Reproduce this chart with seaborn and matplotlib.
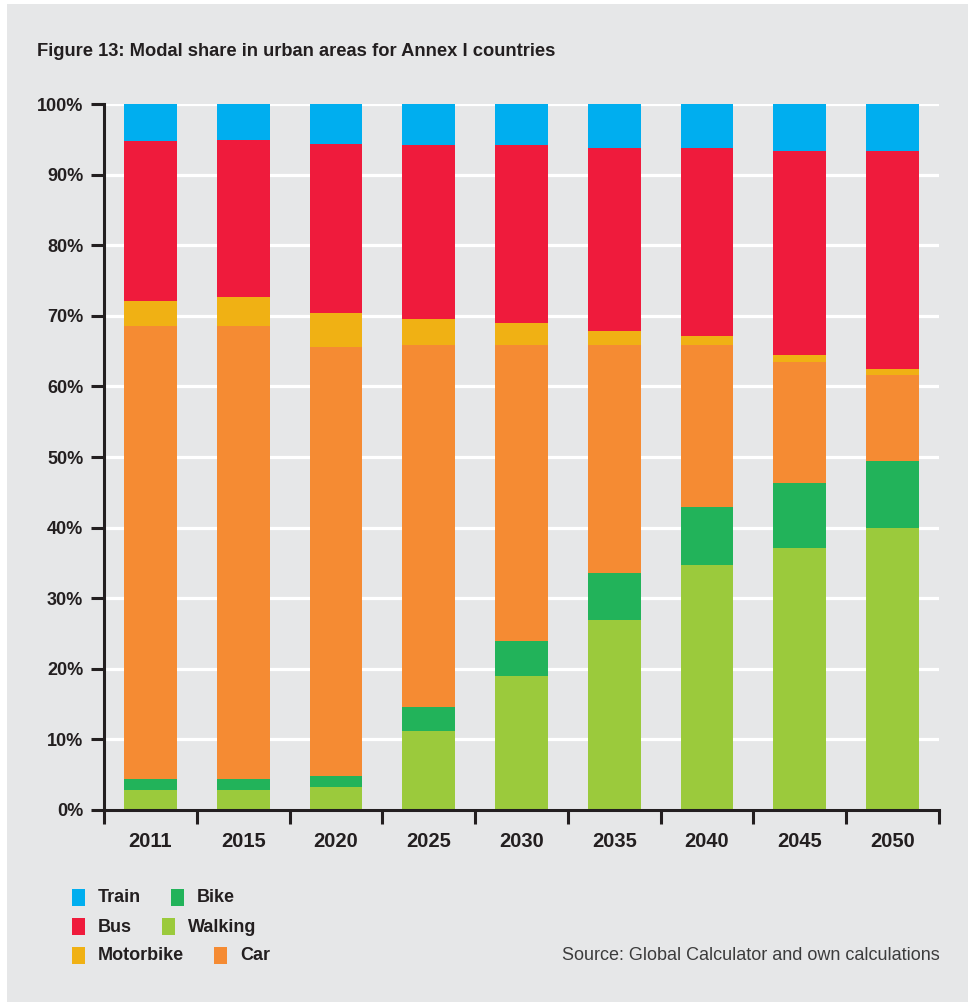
'''
Modal share in urban areas for Annex I countries (stacked bars).
'''
import matplotlib
matplotlib.use('Agg')
import matplotlib.pyplot as plt
from matplotlib.patches import Rectangle
import numpy as np
import pandas as pd
import seaborn as sns

years = ['2011', '2015', '2020', '2025', '2030', '2035', '2040', '2045', '2050']

# shares in %, bottom to top of each bar
walking = [2.8, 2.8, 3.3, 11.2, 19.0, 26.9, 34.7, 37.1, 39.9]
bike = [1.6, 1.6, 1.5, 3.4, 4.9, 6.7, 8.2, 9.2, 9.6]
car = [64.2, 64.2, 60.8, 51.2, 41.9, 32.2, 23.0, 17.1, 12.1]
motorbike = [3.5, 4.0, 4.8, 3.8, 3.2, 2.0, 1.2, 1.0, 0.9]
bus = [22.7, 22.3, 24.0, 24.6, 25.2, 26.0, 26.7, 29.0, 30.8]
train = [5.2, 5.1, 5.6, 5.8, 5.8, 6.2, 6.2, 6.6, 6.7]

modes = ['Walking', 'Bike', 'Car', 'Motorbike', 'Bus', 'Train']
colors = {'Train': '#00aeef', 'Bus': '#ef1b3c', 'Motorbike': '#f0b114',
          'Car': '#f58b33', 'Bike': '#22b35a', 'Walking': '#9bca3c'}

# legend rows, as laid out under the chart
legend_rows = [['Train', 'Bike'], ['Bus', 'Walking'], ['Motorbike', 'Car']]

title = 'Figure 13: Modal share in urban areas for Annex I countries'
source = 'Source: Global Calculator and own calculations'

BG = '#e6e7e8'
INK = '#231f20'

df = pd.DataFrame({'year': years, 'Walking': walking, 'Bike': bike, 'Car': car,
                   'Motorbike': motorbike, 'Bus': bus, 'Train': train})

sns.set_style('white')
plt.rcParams['font.family'] = ['Liberation Sans', 'DejaVu Sans']

W, H = 968, 1002
fig = plt.figure(figsize=(W / 100, H / 100), dpi=100, facecolor='white')
fig.patches.append(Rectangle((7 / W, 0), 1 - 7 / W, 1 - 4 / H, transform=fig.transFigure,
                             facecolor=BG, edgecolor='none', zorder=-10))

ax = fig.add_axes([104 / W, 192 / H, (939 - 104) / W, 706 / H])
ax.set_facecolor(BG)

bottom = np.zeros(len(years))
for m in modes:
    sns.barplot(data=df, x='year', y=m, bottom=bottom, color=colors[m], width=0.57,
                saturation=1, linewidth=0, ax=ax, zorder=3)
    bottom = bottom + df[m].to_numpy()

ax.set_xlim(-0.5, len(years) - 0.5)
ax.set_ylim(0, 100)
ax.set_xlabel('')
ax.set_ylabel('')

ax.set_yticks(range(0, 101, 10))
ax.set_yticklabels([f'{v}%' for v in range(0, 101, 10)], fontsize=13, fontweight='bold', color=INK)
ax.yaxis.grid(True, color='white', linewidth=2.3, zorder=0)
ax.set_axisbelow(True)
ax.tick_params(axis='y', which='major', left=True, length=9.4, width=2.2, color=INK, pad=5.5)

ax.set_xticks(range(len(years)))
ax.set_xticklabels(years, fontsize=14.5, fontweight='bold', color=INK)
ax.set_xticks(np.arange(-0.5, len(years), 1.0), minor=True)
ax.tick_params(axis='x', which='major', bottom=True, length=0, pad=15.5)
ax.tick_params(axis='x', which='minor', bottom=True, length=10, width=2.2, color=INK)

for s in ['top', 'right']:
    ax.spines[s].set_visible(False)
for s in ['left', 'bottom']:
    ax.spines[s].set_color(INK)
    ax.spines[s].set_linewidth(2.2)
    ax.spines[s].set_zorder(5)

fig.text(37 / W, 1 - 52 / H, title, fontsize=13.2, fontweight='bold', color=INK,
         ha='left', va='center')
fig.text(940 / W, 1 - 956 / H, source, fontsize=13, color='#3c3c3c',
         ha='right', va='center')

# legend drawn as a flowing list of swatches and labels
fig.canvas.draw()
renderer = fig.canvas.get_renderer()
for r, row in enumerate(legend_rows):
    yc = 898 + 29 * r
    x = 72
    for name in row:
        fig.patches.append(Rectangle((x / W, 1 - (yc + 8) / H), 13 / W, 17 / H,
                                     transform=fig.transFigure, facecolor=colors[name],
                                     edgecolor='none'))
        t = fig.text((x + 26) / W, 1 - yc / H, name, fontsize=13, fontweight='bold',
                     color=INK, ha='left', va='center')
        bb = t.get_window_extent(renderer)
        x = bb.x1 + 30

fig.savefig('out.png', dpi=100, facecolor=fig.get_facecolor())
